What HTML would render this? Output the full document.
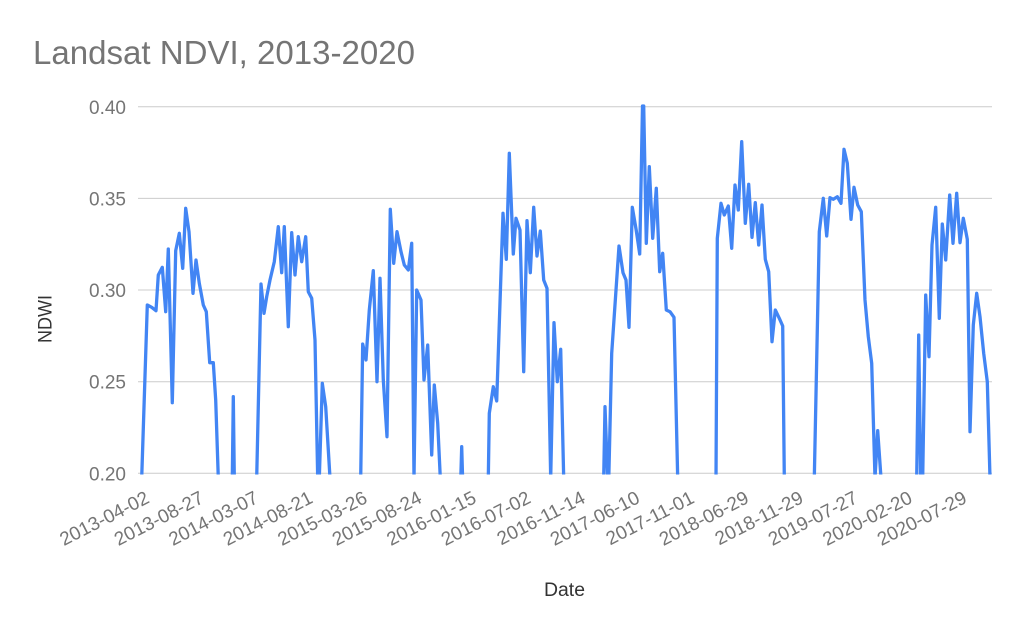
<!DOCTYPE html>
<html>
<head>
<meta charset="utf-8">
<style>
  html, body { margin: 0; padding: 0; background: #ffffff; }
  svg { display: block; }
  text { font-family: "Liberation Sans", Arial, sans-serif; }
</style>
</head>
<body>
<svg width="1024" height="633" viewBox="0 0 1024 633" xmlns="http://www.w3.org/2000/svg">
  <rect x="0" y="0" width="1024" height="633" fill="#ffffff"/>
  <text x="33" y="64" font-size="33" fill="#757575" textLength="382" lengthAdjust="spacingAndGlyphs">Landsat NDVI, 2013-2020</text>

  <g stroke="#cccccc" stroke-width="1">
    <line x1="138" y1="106.7" x2="992" y2="106.7"/>
    <line x1="138" y1="198.4" x2="992" y2="198.4"/>
    <line x1="138" y1="290" x2="992" y2="290"/>
    <line x1="138" y1="381.7" x2="992" y2="381.7"/>
    <line x1="138" y1="473.3" x2="992" y2="473.3"/>
  </g>

  <g font-size="19" fill="#757575" text-anchor="end">
    <text x="126" y="114">0.40</text>
    <text x="126" y="205.5">0.35</text>
    <text x="126" y="297">0.30</text>
    <text x="126" y="388.7">0.25</text>
    <text x="126" y="480.3">0.20</text>
  </g>

  <g font-size="19" fill="#757575" text-anchor="end">
    <text x="150.5" y="502" transform="rotate(-27 150.5 502)">2013-04-02</text>
    <text x="205" y="502" transform="rotate(-27 205 502)">2013-08-27</text>
    <text x="259.5" y="502" transform="rotate(-27 259.5 502)">2014-03-07</text>
    <text x="314" y="502" transform="rotate(-27 314 502)">2014-08-21</text>
    <text x="368.5" y="502" transform="rotate(-27 368.5 502)">2015-03-26</text>
    <text x="423" y="502" transform="rotate(-27 423 502)">2015-08-24</text>
    <text x="477.5" y="502" transform="rotate(-27 477.5 502)">2016-01-15</text>
    <text x="532" y="502" transform="rotate(-27 532 502)">2016-07-02</text>
    <text x="586.5" y="502" transform="rotate(-27 586.5 502)">2016-11-14</text>
    <text x="641" y="502" transform="rotate(-27 641 502)">2017-06-10</text>
    <text x="695.5" y="502" transform="rotate(-27 695.5 502)">2017-11-01</text>
    <text x="750" y="502" transform="rotate(-27 750 502)">2018-06-29</text>
    <text x="804.5" y="502" transform="rotate(-27 804.5 502)">2018-11-29</text>
    <text x="859" y="502" transform="rotate(-27 859 502)">2019-07-27</text>
    <text x="913.5" y="502" transform="rotate(-27 913.5 502)">2020-02-20</text>
    <text x="968" y="502" transform="rotate(-27 968 502)">2020-07-29</text>
  </g>

  <text x="544" y="596" font-size="19" fill="#333333" textLength="41" lengthAdjust="spacingAndGlyphs">Date</text>
  <text x="0" y="0" font-size="19" fill="#333333" text-anchor="middle" textLength="48" lengthAdjust="spacingAndGlyphs" transform="translate(51.5 319) rotate(-90)">NDWI</text>

  <defs>
    <clipPath id="plot">
      <rect x="130" y="95" width="870" height="379.5"/>
    </clipPath>
  </defs>

  <g clip-path="url(#plot)" fill="none" stroke="#4285f4" stroke-width="3.3" stroke-linejoin="round" stroke-linecap="butt">
    <path d="M141.7,478 L147.3,305 L151.7,307.3 L156,310.7 L158.3,275 L162.3,267.3 L165.7,311.7 L168.3,249 L172.3,402.7 L175.7,250.7 L179.3,233.3 L182.7,268.3 L185.7,208.3 L189,231.7 L193,293.3 L196,260 L199.3,283.3 L203.3,305 L206.3,311.7 L209.7,362.7 L213.3,362.7 L215.7,400 L218.3,478"/>
    <path d="M232.3,478 L233.3,396.7 L234.3,478"/>
    <path d="M256.7,478 L261,284 L264,313.3 L266.7,296.7 L270,280 L274.3,261.7 L278.3,226.7 L281.7,272.7 L284.3,226.7 L288.3,326.7 L291.7,232.7 L295,275 L298.3,236.7 L301.7,261.7 L305.7,236.7 L308.3,291.7 L311.7,298.3 L315,340 L317.7,478 L319.3,478 L322.3,383.3 L325.7,406.7 L330,478"/>
    <path d="M360.7,478 L362.7,344 L366,360 L369.3,310 L373.3,270.7 L377,381.7 L380,278.3 L383.3,380 L387,436.7 L390.3,209.3 L393.7,263.3 L397,231.7 L401,251.7 L404.3,265 L408.3,270 L411.7,243.3 L414,478 L416.7,290 L421,300 L424,380 L427.7,345 L431.7,455 L434.3,385 L437.7,423.3 L440.3,478"/>
    <path d="M460.8,478 L461.7,446.7 L462.6,478"/>
    <path d="M488.3,478 L489.3,413.3 L493.3,386.7 L496.7,401 L503,213.3 L506.3,259.3 L509.3,153.3 L513.3,254 L516,218.3 L520,230 L523.7,371.7 L527,220.7 L530.3,272.7 L533.7,207.3 L537,256 L540.3,231 L543.7,280 L547,288.3 L550.7,478 L554,322.7 L557.3,381.7 L560.7,349.3 L563.7,478"/>
    <path d="M603.7,478 L605,406.7 L607.6,478 L608.8,478 L611.7,353.3 L619,246 L623,272.7 L626,280 L629,327.3 L632.3,207.3 L636.3,230.7 L639.7,254 L642.5,106 L643.7,106 L646.3,243.3 L649.3,166.7 L652.7,238.3 L656.3,188.3 L659.7,271.7 L662.7,253.3 L666.3,310 L670,311.7 L674,317.3 L677.7,478"/>
    <path d="M716,478 L717.3,238.3 L721,203.3 L724.3,215 L728.3,206 L731.7,248.3 L735,185 L738.3,210 L741.7,141.7 L745.3,223.3 L748.7,184.3 L752,237.3 L755.3,202.7 L758.7,245 L762,205 L765.3,259.3 L768.7,271.7 L772,341.7 L775.3,310 L779.3,318.3 L782.7,326 L784.3,478"/>
    <path d="M814.3,478 L819.3,231.7 L823.3,198.3 L826.7,236 L830,197.7 L833.3,199.3 L837.3,196.7 L841,203.3 L844,149.3 L847.3,163.3 L851,219.3 L854,187.3 L857.7,205 L861.3,211.7 L865,300 L868.3,336.7 L871.7,363.3 L875,478 L877.7,430.7 L881,478"/>
    <path d="M916.7,478 L918.7,335 L920.7,478 L922.7,478 L925.7,295 L929,356.7 L932,245 L935.7,207.3 L939.3,318.3 L942.3,224 L945.7,260 L949.7,195 L953,243.3 L956.7,193.3 L960,242.7 L963.3,218.3 L967.3,239.3 L970,431.7 L973.3,325 L976.7,293.3 L980,316.7 L983.7,353.3 L987.3,381.7 L990,478"/>
  </g>
</svg>
</body>
</html>
